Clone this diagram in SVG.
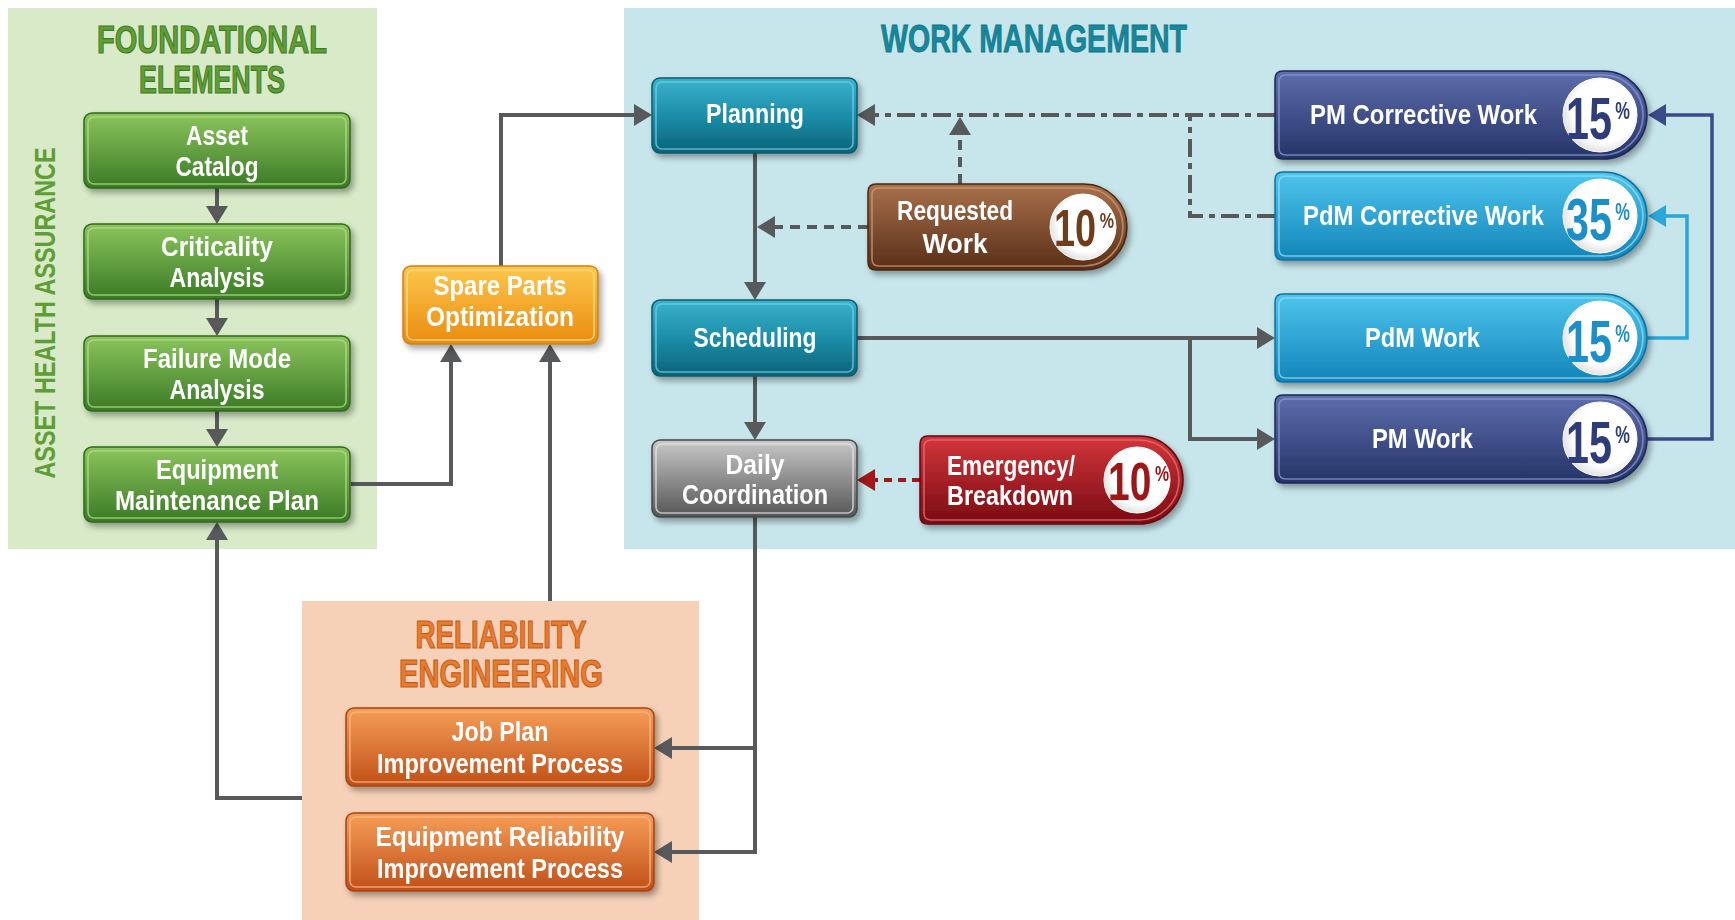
<svg xmlns="http://www.w3.org/2000/svg" width="1735" height="920" viewBox="0 0 1735 920">
<style>
text{font-family:"Liberation Sans Narrow","Liberation Sans",Arial,sans-serif;font-weight:bold}
.lbl{fill:#ffffff;font-size:27px;text-anchor:middle}
.lbl2{fill:#ffffff;font-size:28px}
.ttl{font-size:39px;text-anchor:middle}
.conn{fill:none;stroke:#58595b;stroke-width:4}
.inner{fill:none;stroke-width:1.6;opacity:0.75}
.circ{fill:url(#gWhite);stroke:#ffffff;stroke-width:1}
</style>
<defs>
<filter id="sh" x="-10%" y="-20%" width="125%" height="150%">
<feDropShadow dx="3" dy="4" stdDeviation="3" flood-color="#000" flood-opacity="0.35"/>
</filter>
<linearGradient id="gGreen" x1="0" y1="0" x2="0" y2="1"><stop offset="0" stop-color="#8cc55d"/><stop offset="1" stop-color="#3a7a25"/></linearGradient>
<linearGradient id="gTeal" x1="0" y1="0" x2="0" y2="1"><stop offset="0" stop-color="#3bb2cc"/><stop offset="0.55" stop-color="#1a8aa5"/><stop offset="1" stop-color="#0b6277"/></linearGradient>
<linearGradient id="gGray" x1="0" y1="0" x2="0" y2="1"><stop offset="0" stop-color="#c9c9c9"/><stop offset="1" stop-color="#555555"/></linearGradient>
<linearGradient id="gYel" x1="0" y1="0" x2="0" y2="1"><stop offset="0" stop-color="#fcc64b"/><stop offset="1" stop-color="#ea8c10"/></linearGradient>
<linearGradient id="gOrg" x1="0" y1="0" x2="0" y2="1"><stop offset="0" stop-color="#f69e58"/><stop offset="1" stop-color="#c04f17"/></linearGradient>
<linearGradient id="gBrown" x1="0" y1="0" x2="0" y2="1"><stop offset="0" stop-color="#a9714c"/><stop offset="1" stop-color="#582e17"/></linearGradient>
<linearGradient id="gRed" x1="0" y1="0" x2="0" y2="1"><stop offset="0" stop-color="#d3363b"/><stop offset="1" stop-color="#790b12"/></linearGradient>
<linearGradient id="gNavy" x1="0" y1="0" x2="0" y2="1"><stop offset="0" stop-color="#5d6eae"/><stop offset="1" stop-color="#243366"/></linearGradient>
<linearGradient id="gLblue" x1="0" y1="0" x2="0" y2="1"><stop offset="0" stop-color="#4ec5ee"/><stop offset="1" stop-color="#1284b8"/></linearGradient>
<radialGradient id="gWhite" cx="0.55" cy="0.45" r="0.6"><stop offset="0.7" stop-color="#ffffff"/><stop offset="1" stop-color="#d9d9d9"/></radialGradient>
<marker id="ag" markerUnits="userSpaceOnUse" markerWidth="20" markerHeight="24" refX="10" refY="12" orient="auto"><path d="M0,1 L18,12 L0,23 Z" fill="#58595b"/></marker>
<marker id="ar" markerUnits="userSpaceOnUse" markerWidth="20" markerHeight="24" refX="10" refY="12" orient="auto"><path d="M0,1 L18,12 L0,23 Z" fill="#a3161c"/></marker>
<marker id="ab" markerUnits="userSpaceOnUse" markerWidth="20" markerHeight="24" refX="10" refY="12" orient="auto"><path d="M0,1 L18,12 L0,23 Z" fill="#2aa6da"/></marker>
<marker id="an" markerUnits="userSpaceOnUse" markerWidth="20" markerHeight="24" refX="10" refY="12" orient="auto"><path d="M0,1 L18,12 L0,23 Z" fill="#3b4b8a"/></marker>
</defs>

<rect width="1735" height="920" fill="#ffffff"/>

<!-- Panels -->
<g id="panel-foundational">
<rect x="8" y="8" width="369" height="541" fill="#d8eac8"/>
<text class="ttl" x="212" y="53" fill="#5f9e36" stroke="#3f7a24" stroke-width="1.2" textLength="230" lengthAdjust="spacingAndGlyphs">FOUNDATIONAL</text>
<text class="ttl" x="212" y="93" fill="#5f9e36" stroke="#3f7a24" stroke-width="1.2" textLength="146" lengthAdjust="spacingAndGlyphs">ELEMENTS</text>
<text x="0" y="0" transform="translate(55,313) rotate(-90)" font-size="30" fill="#5f9e36" text-anchor="middle" textLength="331" lengthAdjust="spacingAndGlyphs">ASSET HEALTH ASSURANCE</text>
</g>
<g id="panel-work">
<rect x="624" y="8" width="1111" height="541" fill="#c7e6eb"/>
<text class="ttl" x="1034" y="52" fill="#16879d" stroke="#0f7386" stroke-width="0.8" font-size="38" textLength="306" lengthAdjust="spacingAndGlyphs">WORK MANAGEMENT</text>
</g>
<g id="panel-reliability">
<rect x="302" y="601" width="397" height="319" fill="#f6d1b7"/>
<text class="ttl" x="501" y="648" fill="#e87b2d" stroke="#c65c1b" stroke-width="1.2" textLength="171" lengthAdjust="spacingAndGlyphs">RELIABILITY</text>
<text class="ttl" x="501" y="687" fill="#e87b2d" stroke="#c65c1b" stroke-width="1.2" textLength="204" lengthAdjust="spacingAndGlyphs">ENGINEERING</text>
</g>

<!-- Connectors -->
<g id="connectors">
<path class="conn" d="M217,188 V216" marker-end="url(#ag)"/>
<path class="conn" d="M217,299 V328" marker-end="url(#ag)"/>
<path class="conn" d="M217,411 V439" marker-end="url(#ag)"/>
<path class="conn" d="M351,484 H451 V352" marker-end="url(#ag)"/>
<path class="conn" d="M501,266 V115 H644" marker-end="url(#ag)"/>
<path class="conn" d="M550,601 V352" marker-end="url(#ag)"/>
<path class="conn" d="M302,798 H217 V530" marker-end="url(#ag)"/>
<path class="conn" d="M755,153 V292" marker-end="url(#ag)"/>
<path class="conn" d="M755,376 V432" marker-end="url(#ag)"/>
<path class="conn" d="M755,517 V852 H662" marker-end="url(#ag)"/>
<path class="conn" d="M755,748 H662" marker-end="url(#ag)"/>
<path class="conn" d="M868,227 H765" stroke-dasharray="10 7" marker-end="url(#ag)"/>
<path class="conn" d="M960,184 V125" stroke-dasharray="10 7" marker-end="url(#ag)"/>
<path class="conn" d="M1275,115 H865" stroke-dasharray="18 6 6 6" marker-end="url(#ag)"/>
<path class="conn" d="M1275,216 H1190 V115" stroke-dasharray="18 6 6 6"/>
<path class="conn" d="M857,338 H1267" marker-end="url(#ag)"/>
<path class="conn" d="M1190,338 V439 H1267" marker-end="url(#ag)"/>
<path d="M920,480 H865" fill="none" stroke="#a3161c" stroke-width="4" stroke-dasharray="8 6" marker-end="url(#ar)"/>
<path d="M1647,338 H1687 V216 H1656" fill="none" stroke="#2aa6da" stroke-width="3.5" marker-end="url(#ab)"/>
<path d="M1647,439 H1712 V115 H1656" fill="none" stroke="#3b4b8a" stroke-width="3.5" marker-end="url(#an)"/>
</g>

<!-- Foundational nodes -->
<g id="asset-catalog" filter="url(#sh)">
<rect x="84" y="113" width="266" height="75" rx="8" fill="url(#gGreen)" stroke="#2f6a1e" stroke-width="1.5"/>
<rect x="88" y="117" width="258" height="67" rx="6" class="inner" stroke="#b2df86"/>
<text class="lbl" x="217" y="145" textLength="62" lengthAdjust="spacingAndGlyphs">Asset</text>
<text class="lbl" x="217" y="176" textLength="83" lengthAdjust="spacingAndGlyphs">Catalog</text>
</g>
<g id="criticality-analysis" filter="url(#sh)">
<rect x="84" y="224" width="266" height="75" rx="8" fill="url(#gGreen)" stroke="#2f6a1e" stroke-width="1.5"/>
<rect x="88" y="228" width="258" height="67" rx="6" class="inner" stroke="#b2df86"/>
<text class="lbl" x="217" y="256" textLength="112" lengthAdjust="spacingAndGlyphs">Criticality</text>
<text class="lbl" x="217" y="287" textLength="95" lengthAdjust="spacingAndGlyphs">Analysis</text>
</g>
<g id="failure-mode-analysis" filter="url(#sh)">
<rect x="84" y="336" width="266" height="75" rx="8" fill="url(#gGreen)" stroke="#2f6a1e" stroke-width="1.5"/>
<rect x="88" y="340" width="258" height="67" rx="6" class="inner" stroke="#b2df86"/>
<text class="lbl" x="217" y="368" textLength="148" lengthAdjust="spacingAndGlyphs">Failure Mode</text>
<text class="lbl" x="217" y="399" textLength="95" lengthAdjust="spacingAndGlyphs">Analysis</text>
</g>
<g id="equipment-maintenance-plan" filter="url(#sh)">
<rect x="84" y="447" width="266" height="75" rx="8" fill="url(#gGreen)" stroke="#2f6a1e" stroke-width="1.5"/>
<rect x="88" y="451" width="258" height="67" rx="6" class="inner" stroke="#b2df86"/>
<text class="lbl" x="217" y="479" textLength="122" lengthAdjust="spacingAndGlyphs">Equipment</text>
<text class="lbl" x="217" y="510" textLength="204" lengthAdjust="spacingAndGlyphs">Maintenance Plan</text>
</g>

<g id="spare-parts" filter="url(#sh)">
<rect x="403" y="266" width="195" height="78" rx="8" fill="url(#gYel)" stroke="#d08214" stroke-width="1.5"/>
<rect x="407" y="270" width="187" height="70" rx="6" class="inner" stroke="#ffe38f"/>
<text class="lbl" x="500" y="295" textLength="133" lengthAdjust="spacingAndGlyphs">Spare Parts</text>
<text class="lbl" x="500" y="326" textLength="148" lengthAdjust="spacingAndGlyphs">Optimization</text>
</g>

<!-- Work management nodes -->
<g id="planning" filter="url(#sh)">
<rect x="652" y="78" width="205" height="75" rx="8" fill="url(#gTeal)" stroke="#0d5a6c" stroke-width="1.5"/>
<rect x="656" y="82" width="197" height="67" rx="6" class="inner" stroke="#72d2e6"/>
<text class="lbl" x="755" y="123" textLength="98" lengthAdjust="spacingAndGlyphs">Planning</text>
</g>
<g id="scheduling" filter="url(#sh)">
<rect x="652" y="300" width="205" height="76" rx="8" fill="url(#gTeal)" stroke="#0d5a6c" stroke-width="1.5"/>
<rect x="656" y="304" width="197" height="68" rx="6" class="inner" stroke="#72d2e6"/>
<text class="lbl" x="755" y="347" textLength="123" lengthAdjust="spacingAndGlyphs">Scheduling</text>
</g>
<g id="daily-coordination" filter="url(#sh)">
<rect x="652" y="440" width="205" height="77" rx="8" fill="url(#gGray)" stroke="#474747" stroke-width="1.5"/>
<rect x="656" y="444" width="197" height="69" rx="6" class="inner" stroke="#e6e6e6"/>
<text class="lbl" x="755" y="474" textLength="59" lengthAdjust="spacingAndGlyphs">Daily</text>
<text class="lbl" x="755" y="504" textLength="146" lengthAdjust="spacingAndGlyphs">Coordination</text>
</g>

<g id="requested-work" filter="url(#sh)">
<path d="M876,184 H1084 A43,43 0 0 1 1084,270 H876 Q868,270 868,262 V192 Q868,184 876,184 Z" fill="url(#gBrown)" stroke="#4a2613" stroke-width="1.5"/>
<path d="M879,188 H1084 A39,39 0 0 1 1084,266 H879 Q872,266 872,259 V195 Q872,188 879,188 Z" class="inner" stroke="#cf9c7a"/>
<circle class="circ" cx="1083" cy="227" r="33"/>
<text class="lbl" x="955" y="220" textLength="116" lengthAdjust="spacingAndGlyphs">Requested</text>
<text class="lbl" x="955" y="253" textLength="65" lengthAdjust="spacingAndGlyphs">Work</text>
<text x="1054" y="246" fill="#6e3c1d" textLength="60" lengthAdjust="spacingAndGlyphs"><tspan font-size="52">10</tspan><tspan font-size="22" dx="5" dy="-18">%</tspan></text>
</g>

<g id="emergency-breakdown" filter="url(#sh)">
<path d="M928,436 H1139 A44,44 0 0 1 1139,524 H928 Q920,524 920,516 V444 Q920,436 928,436 Z" fill="url(#gRed)" stroke="#660910" stroke-width="1.5"/>
<path d="M931,440 H1139 A40,40 0 0 1 1139,520 H931 Q924,520 924,513 V447 Q924,440 931,440 Z" class="inner" stroke="#ec7377"/>
<circle class="circ" cx="1137" cy="480" r="33"/>
<text class="lbl2" x="947" y="475" textLength="128" lengthAdjust="spacingAndGlyphs">Emergency/</text>
<text class="lbl2" x="947" y="505" textLength="126" lengthAdjust="spacingAndGlyphs">Breakdown</text>
<text x="1108" y="500" fill="#9e1218" textLength="61" lengthAdjust="spacingAndGlyphs"><tspan font-size="54">10</tspan><tspan font-size="22" dx="5" dy="-19">%</tspan></text>
</g>

<g id="pm-corrective-work" filter="url(#sh)">
<path d="M1283,71 H1603 A44,44 0 0 1 1603,159 H1283 Q1275,159 1275,151 V79 Q1275,71 1283,71 Z" fill="url(#gNavy)" stroke="#1d2957" stroke-width="1.5"/>
<path d="M1286,75 H1603 A40,40 0 0 1 1603,155 H1286 Q1279,155 1279,148 V82 Q1279,75 1286,75 Z" class="inner" stroke="#8d9bd2"/>
<circle class="circ" cx="1600" cy="115" r="37"/>
<text class="lbl2" x="1310" y="124" textLength="227" lengthAdjust="spacingAndGlyphs">PM Corrective Work</text>
<text x="1566" y="139" fill="#2d3d7a" textLength="64" lengthAdjust="spacingAndGlyphs"><tspan font-size="60">15</tspan><tspan font-size="24" dx="5" dy="-20">%</tspan></text>
</g>

<g id="pdm-corrective-work" filter="url(#sh)">
<path d="M1283,172 H1603 A44,44 0 0 1 1603,260 H1283 Q1275,260 1275,252 V180 Q1275,172 1283,172 Z" fill="url(#gLblue)" stroke="#0e72a0" stroke-width="1.5"/>
<path d="M1286,176 H1603 A40,40 0 0 1 1603,256 H1286 Q1279,256 1279,249 V183 Q1279,176 1286,176 Z" class="inner" stroke="#95ddf6"/>
<circle class="circ" cx="1600" cy="216" r="37"/>
<text class="lbl2" x="1303" y="225" textLength="241" lengthAdjust="spacingAndGlyphs">PdM Corrective Work</text>
<text x="1566" y="240" fill="#1a8ec8" textLength="64" lengthAdjust="spacingAndGlyphs"><tspan font-size="60">35</tspan><tspan font-size="24" dx="5" dy="-20">%</tspan></text>
</g>

<g id="pdm-work" filter="url(#sh)">
<path d="M1283,294 H1603 A44,44 0 0 1 1603,382 H1283 Q1275,382 1275,374 V302 Q1275,294 1283,294 Z" fill="url(#gLblue)" stroke="#0e72a0" stroke-width="1.5"/>
<path d="M1286,298 H1603 A40,40 0 0 1 1603,378 H1286 Q1279,378 1279,371 V305 Q1279,298 1286,298 Z" class="inner" stroke="#95ddf6"/>
<circle class="circ" cx="1600" cy="338" r="37"/>
<text class="lbl2" x="1365" y="347" textLength="115" lengthAdjust="spacingAndGlyphs">PdM Work</text>
<text x="1566" y="362" fill="#1a8ec8" textLength="64" lengthAdjust="spacingAndGlyphs"><tspan font-size="60">15</tspan><tspan font-size="24" dx="5" dy="-20">%</tspan></text>
</g>

<g id="pm-work" filter="url(#sh)">
<path d="M1283,395 H1603 A44,44 0 0 1 1603,483 H1283 Q1275,483 1275,475 V403 Q1275,395 1283,395 Z" fill="url(#gNavy)" stroke="#1d2957" stroke-width="1.5"/>
<path d="M1286,399 H1603 A40,40 0 0 1 1603,479 H1286 Q1279,479 1279,472 V406 Q1279,399 1286,399 Z" class="inner" stroke="#8d9bd2"/>
<circle class="circ" cx="1600" cy="439" r="37"/>
<text class="lbl2" x="1372" y="448" textLength="101" lengthAdjust="spacingAndGlyphs">PM Work</text>
<text x="1566" y="463" fill="#2d3d7a" textLength="64" lengthAdjust="spacingAndGlyphs"><tspan font-size="60">15</tspan><tspan font-size="24" dx="5" dy="-20">%</tspan></text>
</g>

<!-- Reliability nodes -->
<g id="job-plan" filter="url(#sh)">
<rect x="346" y="708" width="308" height="78" rx="8" fill="url(#gOrg)" stroke="#a34314" stroke-width="1.5"/>
<rect x="350" y="712" width="300" height="70" rx="6" class="inner" stroke="#fdbb88"/>
<text class="lbl" x="500" y="741" textLength="97" lengthAdjust="spacingAndGlyphs">Job Plan</text>
<text class="lbl" x="500" y="773" textLength="246" lengthAdjust="spacingAndGlyphs">Improvement Process</text>
</g>
<g id="equipment-reliability" filter="url(#sh)">
<rect x="346" y="813" width="308" height="78" rx="8" fill="url(#gOrg)" stroke="#a34314" stroke-width="1.5"/>
<rect x="350" y="817" width="300" height="70" rx="6" class="inner" stroke="#fdbb88"/>
<text class="lbl" x="500" y="846" textLength="249" lengthAdjust="spacingAndGlyphs">Equipment Reliability</text>
<text class="lbl" x="500" y="878" textLength="246" lengthAdjust="spacingAndGlyphs">Improvement Process</text>
</g>
</svg>
